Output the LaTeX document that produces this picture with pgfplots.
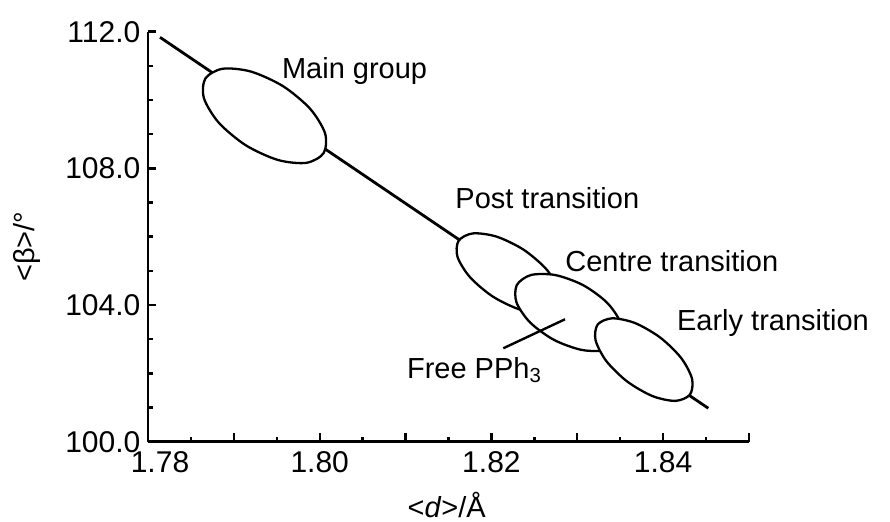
\documentclass[border=0pt]{standalone}
\usepackage{fontspec}
\setmainfont{Liberation Sans}
\usepackage{pgfplots}
\pgfplotsset{compat=1.18}
\begin{document}
\begin{tikzpicture}[font=\fontsize{14.5}{17}\selectfont]
\begin{axis}[
  scale only axis, width=300.5pt, height=205pt,
  xmin=1.78, xmax=1.85, ymin=100, ymax=112,
  axis x line*=bottom, axis y line*=left,
  axis line style={line width=1.4pt},
  /pgf/number format/assume math mode=true,
  tick label style={font=\fontsize{15}{17}\selectfont},
  label style={font=\fontsize{14.5}{17}\selectfont},
  xtick={1.78,1.79,1.80,1.81,1.82,1.83,1.84,1.85},
  xticklabels={\hspace*{12pt}1.78,,1.80,,1.82,,1.84,},
  minor xtick={1.785,1.795,1.805,1.815,1.825,1.835,1.845},
  ytick={100,104,108,112},
  minor ytick={101,102,103,105,106,107,109,110,111},
  yticklabel style={xshift=-0.3pt, /pgf/number format/fixed, /pgf/number format/fixed zerofill, /pgf/number format/precision=1},
  tick align=inside,
  major tick length=4.2pt, minor tick length=2.3pt,
  every tick/.append style={black, line width=1.2pt},
  xticklabel style={yshift=-1.5pt},
  xlabel={<\textit{d}>/Å}, ylabel={<β>/°},
  every axis x label/.style={at={(axis description cs:0.497,-0.1837)}, anchor=base},
  every axis y label/.style={at={(axis description cs:-0.2005,0.4756)}, anchor=center, rotate=90},
  clip=false,
]
% main trend line
\addplot[black, line width=1.4pt, no markers] coordinates {(1.78140,111.836) (1.84526,100.978)};
% Main group
\addplot[black, line width=1.15pt, fill=white, smooth cycle, no markers] coordinates {
(1.80046,108.448) (1.79845,108.162) (1.79514,108.245) (1.79140,108.674)
(1.78825,109.335) (1.78652,110.050) (1.78668,110.629) (1.78869,110.915)
(1.79200,110.832) (1.79574,110.403) (1.79889,109.742) (1.80062,109.027)};
% Post transition
\addplot[black, line width=1.15pt, fill=white, smooth cycle, no markers] coordinates {
(1.82769,103.997) (1.82603,103.780) (1.82327,103.872) (1.82015,104.250)
(1.81751,104.813) (1.81605,105.408) (1.81617,105.878) (1.81783,106.096)
(1.82059,106.003) (1.82371,105.625) (1.82635,105.062) (1.82781,104.467)};
% Centre transition
\addplot[black, line width=1.15pt, fill=white, smooth cycle, no markers] coordinates {
(1.83499,102.978) (1.83334,102.685) (1.83052,102.686) (1.82728,102.981)
(1.82450,103.490) (1.82292,104.077) (1.82296,104.586) (1.82461,104.879)
(1.82744,104.877) (1.83067,104.583) (1.83345,104.073) (1.83503,103.486)};
% Free PPh3 pointer
\addplot[black, line width=1.2pt, no markers] coordinates {(1.82138,102.734) (1.82857,103.583)};
% Early transition
\addplot[black, line width=1.15pt, fill=white, smooth cycle, no markers] coordinates {
(1.84312,101.378) (1.84143,101.195) (1.83876,101.335) (1.83581,101.762)
(1.83338,102.360) (1.83213,102.970) (1.83237,103.428) (1.83406,103.611)
(1.83674,103.471) (1.83968,103.044) (1.84211,102.446) (1.84337,101.836)};
\node[anchor=base west, inner sep=0pt] at (axis cs:1.79557,110.636) {Main group};
\node[anchor=base west, inner sep=0pt] at (axis cs:1.81576,106.831) {Post transition};
\node[anchor=base west, inner sep=0pt] at (axis cs:1.82857,104.976) {Centre transition};
\node[anchor=base west, inner sep=0pt] at (axis cs:1.84158,103.269) {Early transition};
\node[anchor=base west, inner sep=0pt] at (axis cs:1.81013,101.856) {Free PPh\textsubscript{3}};
\end{axis}
\pgfresetboundingbox
\path ([xshift=-74pt,yshift=-40.15pt]current axis.south west) rectangle ([xshift=70.5pt,yshift=15.85pt]current axis.north east);
\end{tikzpicture}
\end{document}
